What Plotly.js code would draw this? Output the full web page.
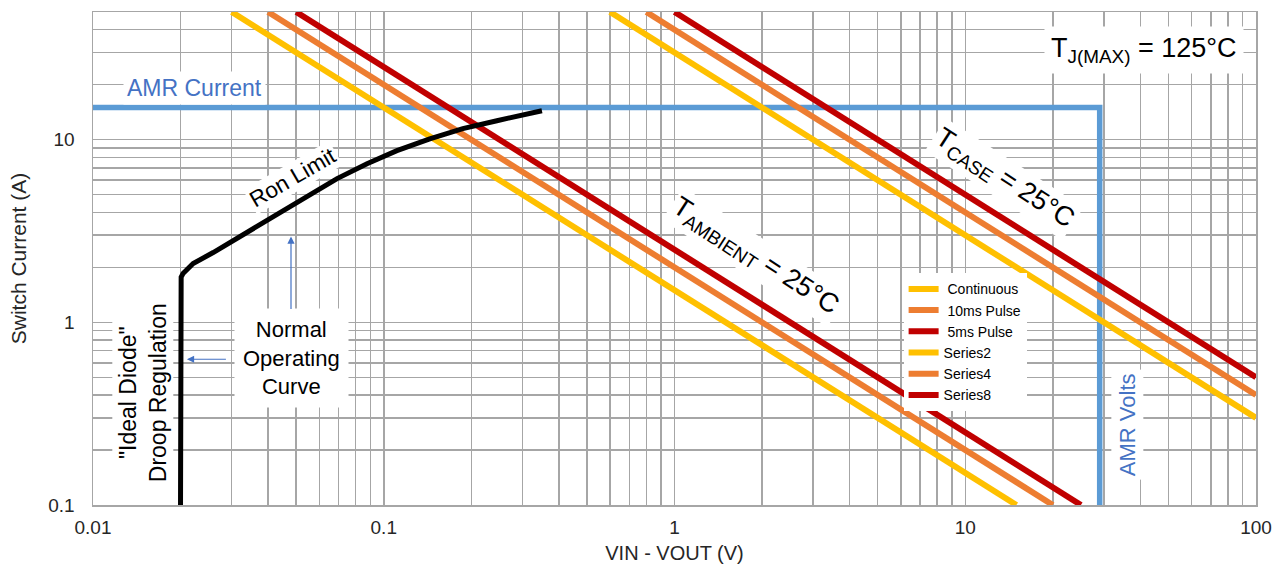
<!DOCTYPE html>
<html>
<head>
<meta charset="utf-8">
<script src="https://cdn.plot.ly/plotly-3.0.1.min.js"></script>
<style>html,body{margin:0;padding:0;background:#fff;}#chart{width:1284px;height:569px;}</style>
</head>
<body>
<div id="chart"></div>
<script>
// ---- Data ----
// T_CASE = 25°C power-limit lines (Voltage V, Current A)
const caseContX = [0.6, 100];   const caseContY = [50, 0.3];
const case10msX = [0.8, 100];   const case10msY = [50, 0.4];
const case5msX  = [1, 100];     const case5msY  = [50, 0.5];
// T_AMBIENT = 25°C power-limit lines
const ambContX = [0.03, 15];    const ambContY = [50, 0.1];
const amb10msX = [0.04, 20];    const amb10msY = [50, 0.1];
const amb5msX  = [0.05, 25];    const amb5msY  = [50, 0.1];
// AMR (absolute max rating) boundary
const amrX = [0.01, 29, 29];    const amrY = [15, 15, 0.1];
// Ron limit / normal operating curve
const ronX = [0.02, 0.02, 0.0201, 0.0204, 0.0221, 0.0259, 0.0296, 0.0339, 0.0397, 0.0476,
              0.0571, 0.0691, 0.0876, 0.111, 0.144, 0.187, 0.245, 0.35];
const ronY = [0.1, 1.68, 1.77, 1.85, 2.10, 2.41, 2.74, 3.10, 3.61, 4.25,
              5.13, 6.12, 7.39, 8.71, 10.1, 11.5, 12.7, 14.4];

const seriesNames = [' Continuous', ' 10ms Pulse', ' 5ms Pulse', 'Series2', 'Series4', 'Series8'];
const seriesColors = ['#FFC000', '#ED7D31', '#C00000', '#FFC000', '#ED7D31', '#C00000'];

// Tick labels
const xTickVals = [0.01, 0.1, 1, 10, 100];
const xTickText = ['0.01', '0.1', '1', '10', '100'];
const yTickVals = [0.1, 1, 10];
const yTickText = ['0.1', '1', '10'];

// gridline positions (1..9 per decade) with labels only on the decades
function gridTicks(decFrom, decTo, maxVal, majors, labels) {
  const vals = [], text = [];
  for (let d = decFrom; d <= decTo; d++) {
    for (let k = 1; k <= 9; k++) {
      const v = parseFloat((k * Math.pow(10, d)).toPrecision(6));
      if (v > maxVal * 1.0001) continue;
      vals.push(v);
      const i = majors.findIndex(m => Math.abs(m - v) / m < 1e-6);
      text.push(i >= 0 ? labels[i] : '');
    }
  }
  return {vals, text};
}
const gx = gridTicks(-2, 2, 100, xTickVals, xTickText);
const gy = gridTicks(-1, 1, 50, yTickVals, yTickText);

const FONT = 'Liberation Sans, Arial, sans-serif';
const xs = [caseContX, case10msX, case5msX, ambContX, amb10msX, amb5msX];
const ys = [caseContY, case10msY, case5msY, ambContY, amb10msY, amb5msY];

const traces = [];
traces.push({x: amrX, y: amrY, mode: 'lines', showlegend: false, hoverinfo: 'skip',
  line: {color: '#5B9BD5', width: 5.5}});
for (let i = 0; i < 6; i++) {
  traces.push({x: xs[i], y: ys[i], mode: 'lines', name: seriesNames[i], legendrank: i + 1,
    line: {color: seriesColors[i], width: 6}});
}
traces.push({x: ronX, y: ronY, mode: 'lines', showlegend: false, hoverinfo: 'skip',
  line: {color: '#000000', width: 5, shape: 'linear'}});

const blue = '#4472C4';
const annotations = [
  {x: -1.6526, y: 1.2842, text: 'AMR Current', font: {family: FONT, size: 23, color: blue},
   bgcolor: '#fff', borderpad: 3, showarrow: false},
  {x: 1.6148, y: 1.4918, text: 'T<sub>J(MAX)</sub> = 125°C', font: {family: FONT, size: 27, color: '#000'},
   bgcolor: '#fff', borderpad: 6, showarrow: false},
  {x: -1.3121, y: 0.7923, text: 'Ron Limit', textangle: -30, font: {family: FONT, size: 22.5, color: '#000'},
   bgcolor: '#fff', borderpad: 1, showarrow: false},
  // "Normal Operating Curve" with its upward arrow (arrow head at the Ron limit region)
  {x: -1.319, y: 0.470, text: 'Normal<br>Operating<br>Curve', font: {family: FONT, size: 22, color: '#000'},
   bgcolor: '#fff', borderpad: 8, showarrow: true, ax: 0, ay: 122, arrowhead: 2,
   arrowsize: 1.2, arrowwidth: 1.2, arrowcolor: blue},
  {x: -1.828, y: -0.388, text: '"Ideal Diode"<br>Droop Regulation', textangle: -90,
   font: {family: FONT, size: 23, color: '#000'}, bgcolor: '#fff', borderpad: 2, showarrow: false},
  {x: 0.2769, y: 0.3552, text: 'T<sub>AMBIENT</sub> = 25°C', textangle: 33,
   font: {family: FONT, size: 27, color: '#000'}, bgcolor: '#fff', borderpad: 2, showarrow: false},
  {x: 1.1333, y: 0.7869, text: 'T<sub>CASE</sub> = 25°C', textangle: 33,
   font: {family: FONT, size: 27, color: '#000'}, bgcolor: '#fff', borderpad: 2, showarrow: false},
  {x: 1.5563, y: -0.5574, text: 'AMR Volts', textangle: -90, font: {family: FONT, size: 22, color: blue},
   bgcolor: '#fff', borderpad: 3, showarrow: false},
  // arrow pointing left toward the droop-regulation segment
  {x: -1.677, y: -0.202, text: ' ', font: {size: 2}, showarrow: true, ax: 41, ay: 0, arrowhead: 2,
   arrowsize: 1.2, arrowwidth: 1.2, arrowcolor: blue}
];

const axisCommon = {
  type: 'log', tickmode: 'array', showgrid: true, gridcolor: '#a6a6a6', gridwidth: 1.5,
  showline: true, linecolor: '#a6a6a6', linewidth: 1.5, mirror: true, ticks: '',
  zeroline: false, tickfont: {family: FONT, size: 19, color: '#262626'}, automargin: false
};

const layout = {
  width: 1284, height: 569,
  margin: {l: 93, r: 28, t: 12, b: 64},
  paper_bgcolor: '#fff', plot_bgcolor: '#fff',
  font: {family: FONT},
  xaxis: Object.assign({}, axisCommon, {
    range: [-2, 2], tickvals: gx.vals, ticktext: gx.text, ticklabelstandoff: 5,
    title: {text: 'VIN - VOUT (V)', font: {family: FONT, size: 20, color: '#262626'}, standoff: 8}
  }),
  yaxis: Object.assign({}, axisCommon, {
    range: [-1, Math.log10(50)], tickvals: gy.vals, ticktext: gy.text, ticklabelstandoff: 13,
    title: {text: 'Switch Current (A)', font: {family: FONT, size: 21, color: '#262626'}, standoff: 16}
  }),
  legend: {x: 0.697, y: 0.47, xanchor: 'left', yanchor: 'top', bgcolor: '#fff',
    font: {family: FONT, size: 14, color: '#000'}, tracegroupgap: 0, borderwidth: 0},
  annotations: annotations,
  showlegend: true
};

Plotly.newPlot('chart', traces, layout, {staticPlot: true, displayModeBar: false});
</script>
</body>
</html>
